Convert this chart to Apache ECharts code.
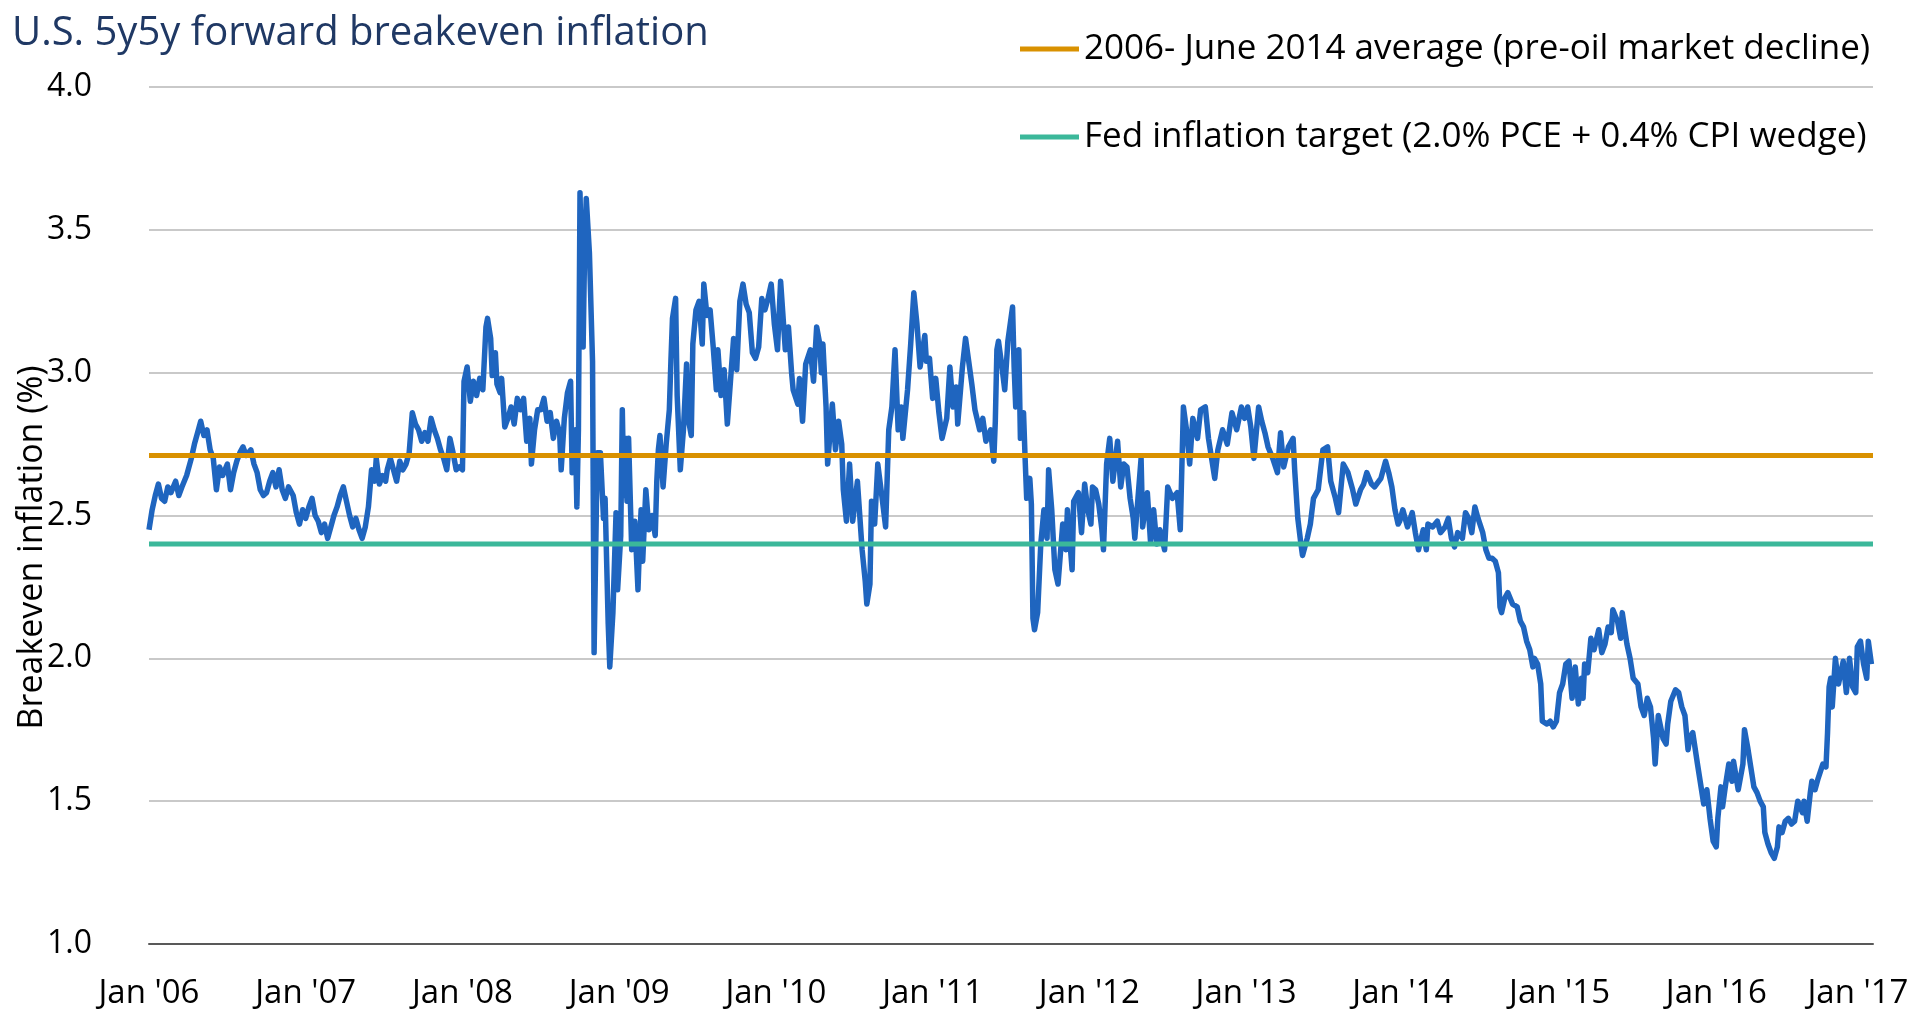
<!DOCTYPE html>
<html><head><meta charset="utf-8">
<script src="https://cdn.jsdelivr.net/npm/echarts@6/dist/echarts.min.js"></script>
<style>html,body{margin:0;padding:0;background:#fff}#c{width:1911px;height:1015px}</style>
</head><body><div id="c"></div>
<script>
const chartTitle = 'U.S. 5y5y forward breakeven inflation';
const yName = 'Breakeven inflation (%)';
const avgName = '2006- June 2014 average (pre-oil market decline)';
const targetName = 'Fed inflation target (2.0% PCE + 0.4% CPI wedge)';
const avgValue = 2.71;
const targetValue = 2.40;
const xRange = [2006, 2017];
const xTickLabels = ["Jan '06","Jan '07","Jan '08","Jan '09","Jan '10","Jan '11","Jan '12","Jan '13","Jan '14","Jan '15","Jan '16","Jan '17"];
const yTickLabels = ['1.0','1.5','2.0','2.5','3.0','3.5','4.0'];

const d2006 = [[2006.00,2.45],[2006.02,2.52],[2006.04,2.57],[2006.06,2.61],[2006.08,2.56],[2006.10,2.55],[2006.12,2.60],[2006.14,2.58],[2006.17,2.62],[2006.19,2.57],[2006.21,2.60],[2006.24,2.64],[2006.27,2.70],[2006.29,2.75],[2006.31,2.79],[2006.33,2.83],[2006.35,2.78],[2006.37,2.80],[2006.39,2.73],[2006.41,2.70],[2006.43,2.59],[2006.45,2.67],[2006.47,2.64],[2006.50,2.68],[2006.52,2.59],[2006.54,2.65],[2006.56,2.69],[2006.58,2.72],[2006.60,2.74],[2006.62,2.71],[2006.65,2.73],[2006.67,2.68],[2006.69,2.65],[2006.71,2.59],[2006.73,2.57],[2006.75,2.58],[2006.77,2.62],[2006.79,2.65],[2006.81,2.60],[2006.83,2.66],[2006.85,2.59],[2006.87,2.56],[2006.89,2.60],[2006.92,2.57],[2006.94,2.51],[2006.96,2.47],[2006.98,2.52]];
const d2007 = [[2007.00,2.49],[2007.02,2.53],[2007.04,2.56],[2007.06,2.50],[2007.08,2.48],[2007.10,2.44],[2007.12,2.47],[2007.14,2.42],[2007.16,2.46],[2007.18,2.50],[2007.20,2.53],[2007.22,2.57],[2007.24,2.60],[2007.26,2.55],[2007.28,2.50],[2007.30,2.46],[2007.32,2.49],[2007.34,2.45],[2007.36,2.42],[2007.38,2.46],[2007.40,2.53],[2007.42,2.66],[2007.44,2.62],[2007.45,2.70],[2007.47,2.61],[2007.49,2.64],[2007.51,2.62],[2007.52,2.66],[2007.54,2.70],[2007.56,2.66],[2007.58,2.62],[2007.60,2.69],[2007.62,2.66],[2007.64,2.68],[2007.66,2.72],[2007.68,2.86],[2007.70,2.82],[2007.72,2.80],[2007.74,2.76],[2007.76,2.79],[2007.78,2.76],[2007.80,2.84],[2007.82,2.80],[2007.84,2.77],[2007.86,2.73],[2007.88,2.70],[2007.90,2.66],[2007.92,2.77],[2007.94,2.72],[2007.96,2.66],[2007.98,2.67]];
const d2008 = [[2008.00,2.66],[2008.01,2.97],[2008.03,3.02],[2008.05,2.90],[2008.07,2.97],[2008.09,2.92],[2008.11,2.98],[2008.13,2.94],[2008.15,3.16],[2008.16,3.19],[2008.18,3.12],[2008.19,2.99],[2008.21,3.07],[2008.22,2.96],[2008.24,2.93],[2008.25,2.98],[2008.27,2.81],[2008.29,2.84],[2008.31,2.88],[2008.33,2.82],[2008.35,2.91],[2008.37,2.87],[2008.39,2.91],[2008.41,2.76],[2008.43,2.84],[2008.44,2.68],[2008.46,2.80],[2008.48,2.87],[2008.50,2.87],[2008.52,2.91],[2008.54,2.83],[2008.56,2.86],[2008.58,2.77],[2008.60,2.83],[2008.62,2.79],[2008.63,2.66],[2008.65,2.84],[2008.67,2.93],[2008.69,2.97],[2008.70,2.65],[2008.72,2.80],[2008.73,2.53],[2008.74,2.80],[2008.75,3.63],[2008.77,3.09],[2008.78,3.45],[2008.79,3.61],[2008.81,3.42],[2008.83,3.04],[2008.84,2.02],[2008.86,2.72],[2008.88,2.72],[2008.90,2.49],[2008.91,2.56],[2008.93,2.12],[2008.94,1.97],[2008.96,2.16],[2008.98,2.51],[2008.99,2.24]];
const d2009 = [[2009.01,2.43],[2009.02,2.87],[2009.03,2.57],[2009.04,2.77],[2009.05,2.55],[2009.06,2.77],[2009.08,2.38],[2009.10,2.48],[2009.12,2.24],[2009.13,2.40],[2009.14,2.52],[2009.15,2.34],[2009.17,2.59],[2009.19,2.45],[2009.21,2.50],[2009.23,2.43],[2009.24,2.62],[2009.25,2.73],[2009.26,2.78],[2009.28,2.60],[2009.30,2.75],[2009.32,2.87],[2009.33,3.04],[2009.34,3.19],[2009.36,3.26],[2009.37,2.92],[2009.39,2.66],[2009.41,2.80],[2009.43,3.03],[2009.44,2.84],[2009.46,2.78],[2009.47,3.10],[2009.49,3.22],[2009.51,3.25],[2009.53,3.10],[2009.54,3.31],[2009.56,3.20],[2009.58,3.22],[2009.60,3.09],[2009.62,2.94],[2009.63,3.08],[2009.65,2.92],[2009.67,3.01],[2009.69,2.82],[2009.71,2.97],[2009.73,3.12],[2009.75,3.01],[2009.77,3.25],[2009.79,3.31],[2009.81,3.24],[2009.83,3.21],[2009.85,3.07],[2009.87,3.05],[2009.89,3.09],[2009.91,3.26],[2009.93,3.22],[2009.95,3.26],[2009.97,3.31],[2009.99,3.17]];
const d2010 = [[2010.01,3.08],[2010.03,3.32],[2010.05,3.16],[2010.06,3.08],[2010.08,3.16],[2010.10,3.00],[2010.11,2.94],[2010.14,2.89],[2010.15,2.98],[2010.17,2.83],[2010.19,3.03],[2010.22,3.08],[2010.24,2.97],[2010.26,3.16],[2010.28,3.10],[2010.29,3.00],[2010.30,3.10],[2010.32,2.88],[2010.33,2.68],[2010.36,2.89],[2010.38,2.73],[2010.40,2.83],[2010.42,2.75],[2010.43,2.59],[2010.45,2.48],[2010.47,2.68],[2010.49,2.48],[2010.52,2.62],[2010.55,2.38],[2010.57,2.27],[2010.58,2.19],[2010.60,2.26],[2010.61,2.55],[2010.63,2.47],[2010.65,2.68],[2010.68,2.55],[2010.70,2.46],[2010.72,2.80],[2010.74,2.88],[2010.76,3.08],[2010.77,3.08],[2010.78,2.80],[2010.80,2.88],[2010.81,2.77],[2010.84,2.94],[2010.86,3.10],[2010.88,3.28],[2010.90,3.17],[2010.92,3.02],[2010.95,3.13],[2010.96,3.04],[2010.98,3.05]];
const d2011 = [[2011.00,2.91],[2011.02,2.98],[2011.04,2.86],[2011.06,2.77],[2011.09,2.84],[2011.11,3.02],[2011.13,2.88],[2011.15,2.95],[2011.16,2.82],[2011.19,3.02],[2011.21,3.12],[2011.23,3.04],[2011.25,2.96],[2011.27,2.87],[2011.30,2.80],[2011.32,2.84],[2011.34,2.76],[2011.37,2.80],[2011.39,2.69],[2011.40,2.83],[2011.41,3.08],[2011.42,3.11],[2011.44,3.03],[2011.46,2.94],[2011.48,3.11],[2011.51,3.23],[2011.52,3.02],[2011.53,2.88],[2011.55,3.08],[2011.56,2.77],[2011.58,2.86],[2011.59,2.70],[2011.60,2.56],[2011.62,2.63],[2011.63,2.54],[2011.64,2.14],[2011.65,2.10],[2011.67,2.16],[2011.69,2.40],[2011.71,2.52],[2011.73,2.42],[2011.74,2.66],[2011.76,2.52],[2011.78,2.31],[2011.80,2.26],[2011.83,2.47],[2011.85,2.38],[2011.86,2.52],[2011.89,2.31],[2011.90,2.55],[2011.93,2.58],[2011.95,2.44],[2011.97,2.61],[2011.99,2.52]];
const d2012 = [[2012.01,2.47],[2012.02,2.60],[2012.04,2.59],[2012.06,2.54],[2012.08,2.45],[2012.09,2.38],[2012.11,2.68],[2012.13,2.77],[2012.15,2.62],[2012.18,2.76],[2012.20,2.60],[2012.22,2.68],[2012.24,2.67],[2012.26,2.56],[2012.28,2.49],[2012.29,2.42],[2012.31,2.56],[2012.33,2.70],[2012.34,2.46],[2012.37,2.58],[2012.39,2.41],[2012.41,2.52],[2012.43,2.40],[2012.45,2.45],[2012.48,2.38],[2012.50,2.60],[2012.53,2.56],[2012.56,2.58],[2012.58,2.45],[2012.60,2.88],[2012.62,2.80],[2012.64,2.68],[2012.66,2.84],[2012.69,2.77],[2012.71,2.87],[2012.74,2.88],[2012.76,2.77],[2012.78,2.70],[2012.80,2.63],[2012.82,2.73],[2012.85,2.80],[2012.88,2.75],[2012.91,2.86],[2012.94,2.80],[2012.97,2.88],[2012.99,2.84]];
const d2013 = [[2013.01,2.88],[2013.03,2.81],[2013.05,2.70],[2013.08,2.88],[2013.10,2.83],[2013.12,2.79],[2013.14,2.74],[2013.17,2.70],[2013.20,2.65],[2013.22,2.79],[2013.24,2.67],[2013.27,2.74],[2013.30,2.77],[2013.31,2.66],[2013.33,2.49],[2013.35,2.40],[2013.36,2.36],[2013.39,2.42],[2013.41,2.47],[2013.43,2.56],[2013.46,2.59],[2013.49,2.73],[2013.52,2.74],[2013.54,2.62],[2013.57,2.56],[2013.59,2.51],[2013.62,2.68],[2013.65,2.65],[2013.68,2.59],[2013.70,2.54],[2013.73,2.59],[2013.75,2.61],[2013.77,2.65],[2013.80,2.61],[2013.82,2.60],[2013.86,2.63],[2013.89,2.69],[2013.91,2.65],[2013.93,2.60],[2013.95,2.52],[2013.97,2.47],[2013.98,2.48]];
const d2014 = [[2014.00,2.52],[2014.03,2.46],[2014.06,2.51],[2014.08,2.44],[2014.10,2.38],[2014.13,2.45],[2014.15,2.38],[2014.16,2.47],[2014.19,2.46],[2014.22,2.48],[2014.24,2.44],[2014.27,2.46],[2014.29,2.49],[2014.31,2.42],[2014.33,2.39],[2014.35,2.44],[2014.38,2.42],[2014.40,2.51],[2014.42,2.49],[2014.44,2.44],[2014.46,2.53],[2014.48,2.49],[2014.51,2.44],[2014.53,2.38],[2014.55,2.35],[2014.57,2.35],[2014.59,2.34],[2014.61,2.30],[2014.62,2.18],[2014.63,2.16],[2014.65,2.21],[2014.67,2.23],[2014.70,2.19],[2014.73,2.18],[2014.75,2.13],[2014.77,2.11],[2014.79,2.06],[2014.81,2.03],[2014.83,1.97],[2014.84,2.00],[2014.86,1.98],[2014.88,1.91],[2014.89,1.78],[2014.92,1.77],[2014.94,1.78],[2014.96,1.76],[2014.98,1.78]];
const d2015 = [[2015.00,1.88],[2015.02,1.91],[2015.04,1.98],[2015.06,1.99],[2015.08,1.86],[2015.10,1.97],[2015.12,1.84],[2015.14,1.93],[2015.15,1.86],[2015.16,1.98],[2015.18,1.95],[2015.20,2.07],[2015.22,2.03],[2015.25,2.10],[2015.27,2.02],[2015.29,2.05],[2015.31,2.11],[2015.33,2.09],[2015.34,2.17],[2015.37,2.13],[2015.39,2.07],[2015.40,2.16],[2015.43,2.05],[2015.45,2.00],[2015.47,1.93],[2015.50,1.91],[2015.52,1.83],[2015.54,1.80],[2015.56,1.86],[2015.58,1.83],[2015.60,1.72],[2015.61,1.63],[2015.63,1.80],[2015.66,1.72],[2015.68,1.70],[2015.69,1.77],[2015.71,1.85],[2015.74,1.89],[2015.76,1.88],[2015.78,1.83],[2015.80,1.80],[2015.82,1.68],[2015.83,1.72],[2015.85,1.74],[2015.88,1.63],[2015.90,1.56],[2015.92,1.49],[2015.94,1.54],[2015.96,1.44],[2015.98,1.36]];
const d2016 = [[2016.00,1.34],[2016.01,1.44],[2016.03,1.55],[2016.04,1.48],[2016.06,1.56],[2016.08,1.63],[2016.10,1.57],[2016.11,1.64],[2016.14,1.54],[2016.17,1.63],[2016.18,1.75],[2016.20,1.69],[2016.22,1.62],[2016.24,1.55],[2016.26,1.53],[2016.28,1.50],[2016.30,1.48],[2016.31,1.39],[2016.33,1.35],[2016.35,1.32],[2016.37,1.30],[2016.39,1.34],[2016.40,1.41],[2016.42,1.39],[2016.44,1.43],[2016.46,1.44],[2016.48,1.42],[2016.50,1.43],[2016.52,1.50],[2016.55,1.46],[2016.56,1.50],[2016.58,1.43],[2016.60,1.53],[2016.61,1.57],[2016.63,1.54],[2016.65,1.58],[2016.68,1.63],[2016.70,1.62],[2016.71,1.74],[2016.72,1.90],[2016.73,1.93],[2016.74,1.83],[2016.76,2.00],[2016.78,1.91],[2016.81,1.99],[2016.83,1.88],[2016.85,2.00],[2016.87,1.90],[2016.89,1.88],[2016.90,2.04],[2016.92,2.06],[2016.94,1.98],[2016.96,1.93],[2016.97,2.06],[2016.99,1.98]];

const breakeven = [].concat(d2006, d2007, d2008, d2009, d2010, d2011, d2012, d2013, d2014, d2015, d2016);

const FONT = '"Open Sans", "Noto Sans", sans-serif';
const chart = echarts.init(document.getElementById('c'), null, {renderer: 'canvas'});
chart.setOption({
  animation: false,
  backgroundColor: '#ffffff',
  textStyle: {fontFamily: FONT},
  title: {
    text: chartTitle, left: 12, top: 14, padding: 0,
    textStyle: {fontSize: 40, fontWeight: 'normal', color: '#1F3864', fontFamily: FONT}
  },
  legend: [
    {data: [avgName], left: 1020, top: 29, padding: 0, icon: 'rect', itemWidth: 59, itemHeight: 5,
     textStyle: {fontSize: 35, color: '#000', fontFamily: FONT, lineHeight: 40}},
    {data: [targetName], left: 1020, top: 117, padding: 0, icon: 'rect', itemWidth: 59, itemHeight: 5,
     textStyle: {fontSize: 35, color: '#000', fontFamily: FONT, lineHeight: 40}}
  ],
  grid: {left: 149, right: 38, top: 87, bottom: 71, containLabel: false, outerBoundsMode: 'none'},
  xAxis: {
    type: 'value', min: xRange[0], max: xRange[1], interval: 1,
    axisLine: {show: true, lineStyle: {color: '#595959', width: 2}},
    axisTick: {show: false},
    splitLine: {show: false},
    axisLabel: {
      fontSize: 33, color: '#000', fontFamily: FONT, margin: 33, hideOverlap: false,
      formatter: v => {
        const i = Math.round(v - xRange[0]);
        return i === xTickLabels.length - 1 ? '{last|' + xTickLabels[i] + '}' : xTickLabels[i];
      },
      rich: {last: {fontSize: 33, color: '#000', fontFamily: FONT, padding: [0, 30, 0, 0]}}
    }
  },
  yAxis: {
    type: 'value', min: 1, max: 4, interval: 0.5,
    axisLine: {show: false}, axisTick: {show: false},
    splitLine: {lineStyle: {color: '#C9C9C9', width: 2}},
    axisLabel: {fontSize: 32, color: '#000', fontFamily: FONT, margin: 57,
      formatter: v => yTickLabels[Math.round((v - 1) / 0.5)]},
    name: yName, nameLocation: 'middle', nameRotate: 90, nameGap: 100, nameMoveOverlap: false,
    nameTextStyle: {fontSize: 34, color: '#000', fontFamily: FONT, padding: [0, 64, 0, 0]}
  },
  series: [
    {name: 'Breakeven', type: 'line', data: breakeven, showSymbol: false, symbol: 'none',
     lineStyle: {color: '#1F65BF', width: 5.5, join: 'round'}, itemStyle: {color: '#1F65BF'}, z: 2},
    {name: avgName, type: 'line', data: [[xRange[0], avgValue], [xRange[1], avgValue]], symbol: 'none',
     lineStyle: {color: '#D99100', width: 5}, itemStyle: {color: '#D99100'}, z: 3},
    {name: targetName, type: 'line', data: [[xRange[0], targetValue], [xRange[1], targetValue]], symbol: 'none',
     lineStyle: {color: '#3BB89A', width: 5}, itemStyle: {color: '#3BB89A'}, z: 3}
  ]
});
</script></body></html>
